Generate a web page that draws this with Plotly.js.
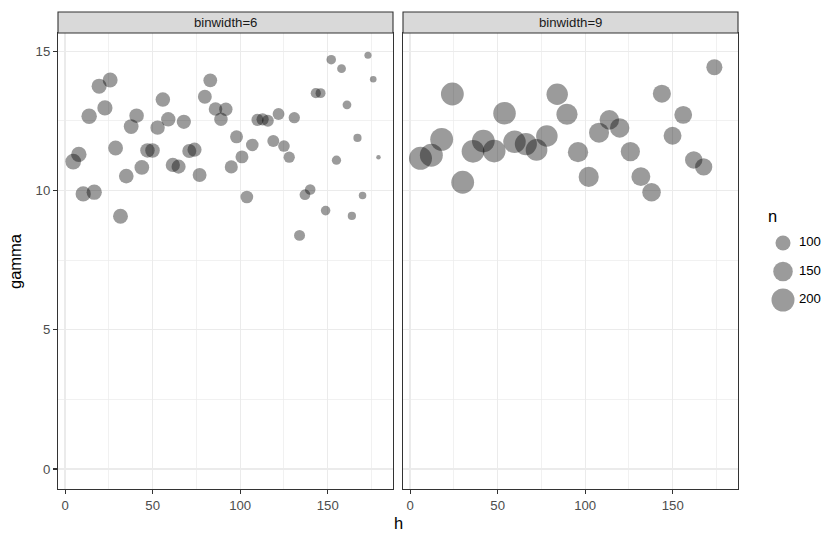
<!DOCTYPE html>
<html><head><meta charset="utf-8">
<script src="https://cdn.plot.ly/plotly-3.0.1.min.js"></script>
<style>html,body{margin:0;padding:0;background:#fff}</style>
</head><body><div id="chart" style="width:824px;height:534px"></div>
<script>
// Panel labels
const panelLabels = ['binwidth=6', 'binwidth=9'];

// binwidth=6 panel
const h6 = [4.6, 7.8, 10.3, 13.7, 16.6, 19.4, 22.7, 25.7, 28.8, 31.6, 34.9, 37.7, 40.8, 43.8, 47.0, 49.9, 52.8, 55.8, 58.9, 61.5,
  64.8, 67.8, 70.9, 73.9, 76.8, 79.8, 82.9, 85.9, 89.0, 91.8, 94.9, 97.9, 101.0, 103.8, 106.9, 109.9, 112.8, 115.8, 118.9, 121.9,
  125.0, 128.0, 130.9, 133.9, 137.0, 140.0, 143.2, 145.9, 148.8, 152.0, 155.0, 157.9, 161.0, 163.8, 167.0, 169.9, 173.0, 176.0, 179.0];
const gamma6 = [11.04, 11.30, 9.88, 12.67, 9.94, 13.75, 12.97, 13.97, 11.53, 9.08, 10.52, 12.30, 12.69, 10.83, 11.44, 11.44, 12.26, 13.27, 12.56, 10.92,
  10.86, 12.47, 11.42, 11.47, 10.56, 13.37, 13.96, 12.93, 12.56, 12.92, 10.85, 11.93, 11.21, 9.77, 11.64, 12.54, 12.56, 12.51, 11.78, 12.75,
  11.60, 11.20, 12.62, 8.39, 9.85, 10.04, 13.50, 13.50, 9.28, 14.70, 11.09, 14.38, 13.08, 9.09, 11.89, 9.82, 14.86, 14.00, 11.20];
const n6 = [106, 104, 102, 104, 102, 100, 101, 99, 98, 99, 97, 98, 96, 97, 95, 96, 94, 95, 94, 93,
  92, 93, 91, 92, 90, 90, 89, 88, 87, 86, 84, 83, 83, 81, 80, 78, 78, 76, 76, 75,
  74, 72, 72, 70, 69, 68, 66, 65, 63, 63, 62, 60, 60, 58, 58, 56, 55, 54, 52];

// binwidth=9 panel
const h9 = [5.9, 12.1, 18.0, 24.1, 30.0, 35.9, 41.8, 48.0, 53.9, 59.6, 66.1, 72.2, 78.1, 84.0, 89.6,
  95.9, 102.0, 107.9, 113.8, 119.7, 125.8, 131.8, 137.9, 143.8, 149.9, 156.0, 162.0, 167.7, 173.8];
const gamma9 = [11.16, 11.27, 11.84, 13.47, 10.30, 11.41, 11.78, 11.42, 12.78, 11.75, 11.67, 11.46, 11.96, 13.46, 12.74,
  11.38, 10.49, 12.08, 12.54, 12.25, 11.40, 10.50, 9.94, 13.48, 11.97, 12.72, 11.10, 10.85, 14.43];
const n9 = [200, 199, 198, 198, 197, 196, 196, 195, 193, 192, 186, 180, 178, 176, 172,
  160, 158, 156, 150, 148, 146, 142, 138, 132, 130, 128, 124, 122, 110];

// Axis ticks and legend breaks
const xTicks = [0, 50, 100, 150];
const yTicks = [0, 5, 10, 15];
const sizeBreaks = [100, 150, 200];

const W = 824, H = 534;
const px = v => v / W, py = v => 1 - v / H;
const allN = n6.concat(n9);
const nLo = Math.min(...allN), nHi = Math.max(...allN);
const sizeOf = n => 4.5 + 18.5 * Math.sqrt(Math.max(0, (n - nLo) / (nHi - nLo)));

const ptColor = 'rgba(0,0,0,0.56)';
const FONT = 'Liberation Sans, Arial, sans-serif';

const traces = [
  {type: 'scatter', mode: 'markers', x: h6, y: gamma6, xaxis: 'x', yaxis: 'y',
   marker: {color: ptColor, size: n6.map(sizeOf), line: {width: 0}}, hoverinfo: 'skip', showlegend: false},
  {type: 'scatter', mode: 'markers', x: h9, y: gamma9, xaxis: 'x2', yaxis: 'y2',
   marker: {color: ptColor, size: n9.map(sizeOf), line: {width: 0}}, hoverinfo: 'skip', showlegend: false},
  {type: 'scatter', mode: 'markers', x: sizeBreaks.map(() => 0), y: sizeBreaks, xaxis: 'x3', yaxis: 'y3',
   marker: {color: ptColor, size: sizeBreaks.map(sizeOf), line: {width: 0}}, hoverinfo: 'skip', showlegend: false},
  {type: 'scatter', mode: 'text', x: sizeBreaks.map(() => 1.45), y: sizeBreaks, xaxis: 'x3', yaxis: 'y3',
   text: sizeBreaks.map(String), textposition: 'middle right',
   textfont: {family: FONT, size: 13.2, color: '#000000'}, hoverinfo: 'skip', showlegend: false}
];

const xRange = [-4.1, 187.3];
const yRange = [-0.72, 15.66];
function xAxis(domain, anchor) {
  return {domain: domain, anchor: anchor, range: xRange, autorange: false,
    tickvals: xTicks, ticktext: xTicks.map(String), ticks: 'outside', ticklen: 4, tickwidth: 1.1, tickcolor: '#333333',
    tickfont: {family: FONT, size: 13.2, color: '#4D4D4D'},
    showgrid: true, gridcolor: '#EBEBEB', gridwidth: 1.4,
    minor: {dtick: 25, tick0: 0, showgrid: true, gridcolor: '#EBEBEB', gridwidth: 0.7, ticks: ''},
    showline: true, mirror: true, linecolor: '#333333', linewidth: 1.1, zeroline: false, fixedrange: true};
}
function yAxis(anchor, showLabels) {
  return {domain: [py(489), py(33)], anchor: anchor, range: yRange, autorange: false,
    tickvals: yTicks, ticktext: yTicks.map(String), showticklabels: showLabels,
    ticks: showLabels ? 'outside' : '', ticklen: 4, tickwidth: 1.1, tickcolor: '#333333',
    tickfont: {family: FONT, size: 13.2, color: '#4D4D4D'},
    showgrid: true, gridcolor: '#EBEBEB', gridwidth: 1.4,
    minor: {dtick: 2.5, tick0: 0, showgrid: true, gridcolor: '#EBEBEB', gridwidth: 0.7, ticks: ''},
    showline: true, mirror: true, linecolor: '#333333', linewidth: 1.1, zeroline: false, fixedrange: true};
}

const panels = [[58, 393], [403, 738]];
const shapes = panels.map(p => ({type: 'rect', xref: 'paper', yref: 'paper',
  x0: px(p[0]), x1: px(p[1]), y0: py(33), y1: py(12),
  fillcolor: '#D9D9D9', line: {color: '#333333', width: 1.1}}));

const annotations = panels.map((p, i) => ({xref: 'paper', yref: 'paper',
  x: px((p[0] + p[1]) / 2), y: py(22.5), text: panelLabels[i], showarrow: false,
  xanchor: 'center', yanchor: 'middle', font: {family: FONT, size: 13.2, color: '#1A1A1A'}}));
annotations.push({xref: 'paper', yref: 'paper', x: px(398), y: py(523), text: 'h', showarrow: false,
  xanchor: 'center', yanchor: 'middle', font: {family: FONT, size: 16.5, color: '#000000'}});
annotations.push({xref: 'paper', yref: 'paper', x: px(15), y: py(261), text: 'gamma', showarrow: false, textangle: -90,
  xanchor: 'center', yanchor: 'middle', font: {family: FONT, size: 16.5, color: '#000000'}});
annotations.push({xref: 'paper', yref: 'paper', x: px(766), y: py(216), text: 'n', showarrow: false,
  xanchor: 'left', yanchor: 'middle', font: {family: FONT, size: 16.5, color: '#000000'}});

const layout = {
  width: W, height: H, margin: {l: 0, r: 0, t: 0, b: 0}, paper_bgcolor: '#FFFFFF', plot_bgcolor: '#FFFFFF',
  font: {family: FONT}, showlegend: false,
  xaxis: xAxis([px(58), px(393)], 'y'),
  yaxis: yAxis('x', true),
  xaxis2: xAxis([px(403), px(738)], 'y2'),
  yaxis2: yAxis('x2', false),
  xaxis3: {domain: [px(761), px(824)], anchor: 'y3', range: [-2, 3.727], visible: false, fixedrange: true},
  yaxis3: {domain: [py(314.25), py(228.75)], anchor: 'x3', range: [225, 75], visible: false, fixedrange: true},
  shapes: shapes, annotations: annotations
};
Plotly.newPlot('chart', traces, layout, {displayModeBar: false, staticPlot: true});
</script></body></html>
